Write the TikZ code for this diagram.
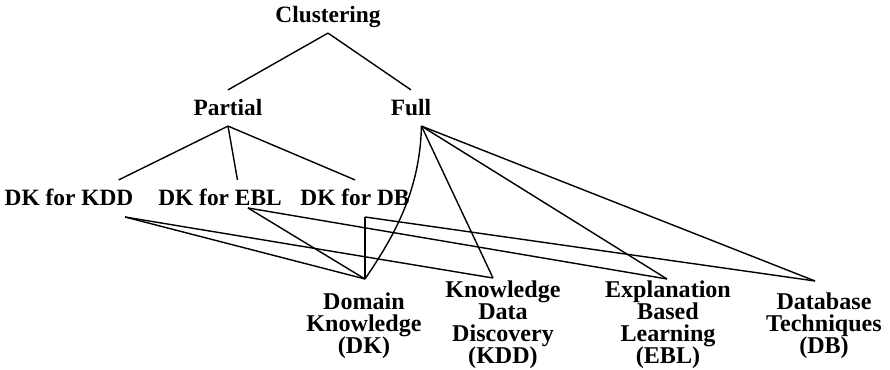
\documentclass[tikz,border=0pt]{standalone}
\usepackage{fontspec}
\setmainfont{Liberation Serif}
\tikzset{
  lbl/.style={font=\fontsize{13.3}{13}\selectfont\bfseries, inner sep=0.2cm, text height=0.31cm, text depth=0cm},
  leaf/.style={font=\fontsize{13.7}{12.7}\selectfont\bfseries, inner sep=0pt, align=center, anchor=north},
  link/.style={line width=0.8pt}
}
\begin{document}
\begin{tikzpicture}
\useasboundingbox (0,0) rectangle (17.8,7.4);
%
\node[lbl] (clus) at (6.56, 7.1) {Clustering};
\node[lbl] (part) at (4.56, 5.24) {Partial};
\node[lbl] (full) at (8.22, 5.24) {Full};
%
\node[lbl] (dkkdd) at (1.38, 3.44) {DK for KDD};
\node[lbl] (dkebl) at (4.40, 3.44) {DK for EBL};
\node[lbl] (dkdb) at (7.10, 3.44) {DK for DB};
%
\node[leaf] (dk) at (7.28, 1.56) {Domain\\Knowledge\\(DK)};
\node[leaf] (kdd) at (10.06, 1.80) {Knowledge\\Data\\Discovery\\(KDD)};
\node[leaf] (ebl) at (13.36, 1.80) {Explanation\\Based\\Learning\\(EBL)};
\node[leaf] (db) at (16.48, 1.56) {Database\\Techniques\\(DB)};
%
\coordinate (kdd-out) at (2.50, 3.06);
\coordinate (ebl-out) at (4.96, 3.24);
\coordinate (db-out) at (7.30, 3.06);
\coordinate (dk-tip) at (7.30, 1.82);
\coordinate (kdd-tip) at (9.86, 1.84);
\coordinate (ebl-tip) at (13.34, 1.82);
\coordinate (db-tip) at (16.30, 1.78);
%
\draw[link] (clus.south) -- (part.north);
\draw[link] (clus.south) -- (full.north);
%
\draw[link] (part.south) -- (dkkdd.20);
\draw[link] (part.south) -- (dkebl.46);
\draw[link] (part.south) -- (dkdb.north);
%
\draw[link] (kdd-out) -- (dk-tip);
\draw[link] (kdd-out) -- (kdd-tip);
\draw[link] (ebl-out) -- (dk-tip);
\draw[link] (ebl-out) -- (ebl-tip);
\draw[link] (db-out) -- (dk-tip);
\draw[link] (db-out) -- (db-tip);
%
\draw[link] (full.-60) .. controls (8.40, 3.6) and (7.9, 2.7) .. (dk-tip);
\draw[link] (full.-60) -- (kdd-tip);
\draw[link] (full.-60) -- (ebl-tip);
\draw[link] (full.-60) -- (db-tip);
\end{tikzpicture}
\end{document}
